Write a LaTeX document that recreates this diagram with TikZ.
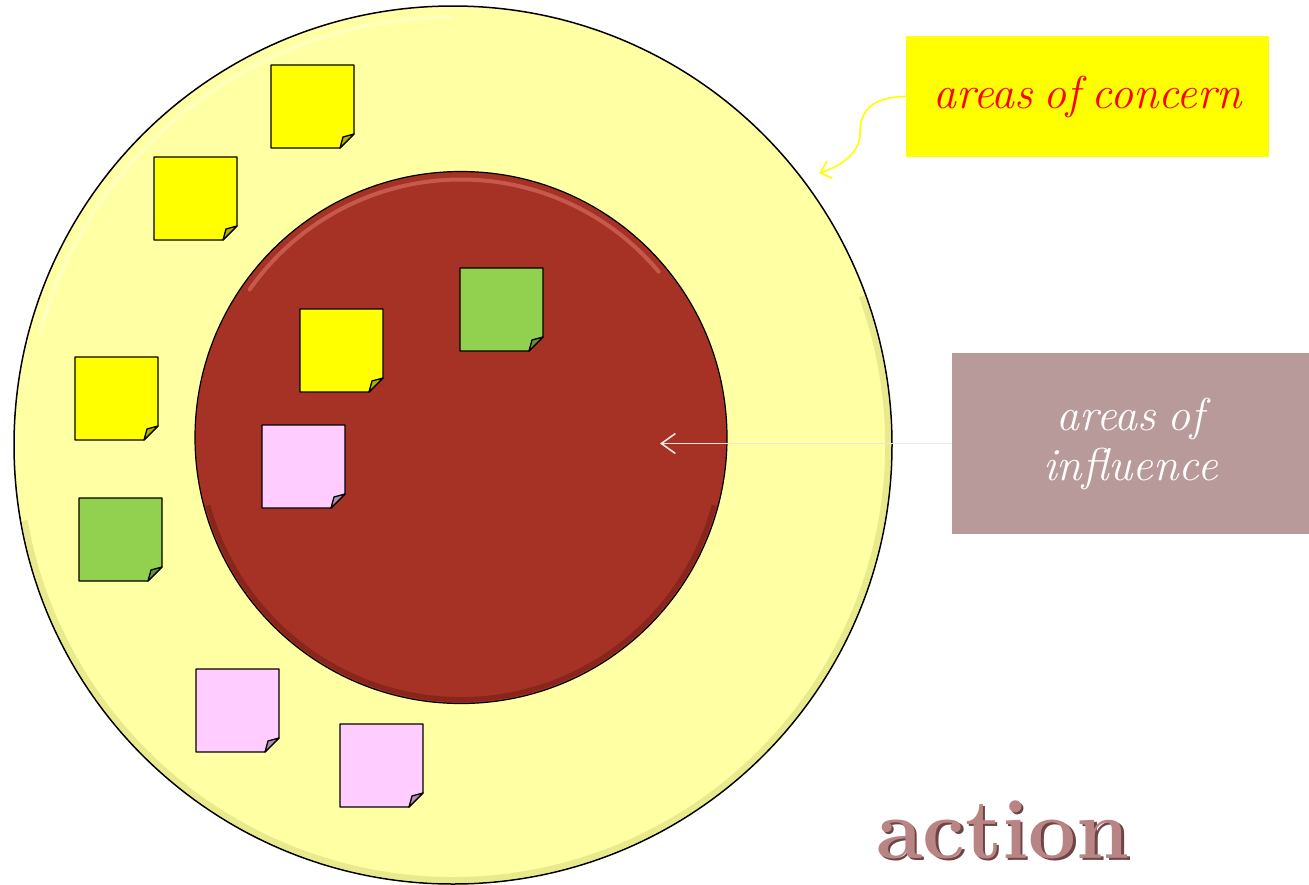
\documentclass[tikz,border=0pt]{standalone}
\usepackage{fontspec}
\usetikzlibrary{arrows.meta}
\definecolor{concernfill}{HTML}{FFFFA3}
\definecolor{concernrim}{HTML}{B8B860}
\definecolor{influencefill}{HTML}{A53224}
\definecolor{influencehi}{HTML}{E27A6E}
\definecolor{influencelo}{HTML}{5E150E}
\definecolor{noteyellow}{HTML}{FFFF00}
\definecolor{notegreen}{HTML}{92D050}
\definecolor{notepink}{HTML}{FFCCFF}
\definecolor{labelyellow}{HTML}{FFFF00}
\definecolor{labelmauve}{HTML}{B89A9A}
\definecolor{actioncol}{HTML}{B98584}
\definecolor{actionshade}{HTML}{6E4444}
\definecolor{arrowgrey}{HTML}{ECE8E0}
\newcommand\stickynote[4]{%
  \begin{scope}[shift={(#2,#3)}]
    \coordinate (#1) at (0,0);
    \filldraw[notebody,fill=#4] (0,0) -- (83,0) -- (83,69) -- (69,83) -- (0,83) -- cycle;
    \filldraw[notebody,fill=#4!70!black] (83,69) -- (72,72) -- (69,83) -- cycle;
  \end{scope}}
\newcommand\wsp{\hspace{.24em}}
\begin{document}
\begin{tikzpicture}[x=1pt,y=-1pt,
  notebody/.style={draw=black,line width=1.3pt,line join=round},
  ring/.style={circle,draw=black,inner sep=0pt,outer sep=0pt},
  labelbox/.style={inner sep=0pt,outer sep=0pt,anchor=north west,align=center,
    font=\itshape\fontsize{46}{50}\selectfont},
  concernarrow/.style={draw=labelyellow,line width=1.6pt,-{Straight Barb[length=10pt,width=18pt]}},
  influencearrow/.style={draw=arrowgrey,line width=1.6pt,-{Straight Barb[length=14pt,width=20pt]}},
  actionfont/.style={font=\bfseries\fontsize{85}{90}\selectfont,anchor=base,inner sep=0pt}]
\useasboundingbox (0,0) rectangle (1309,884);
\fill[white] (0,0) rectangle (1309,884);
% outer circle
\node[ring,line width=1.5pt,fill=concernfill,minimum size=878pt] (concern) at (453,445) {};
\draw[concernrim,line width=6pt,opacity=.3] (concern.center) ++(-20:435) arc[start angle=-20,end angle=170,radius=435];
\draw[white,line width=4pt,opacity=.3] (concern.center) ++(195:428) arc[start angle=195,end angle=270,radius=428];
% inner circle
\node[ring,line width=1.2pt,fill=influencefill,minimum size=532pt] (influence) at (461,437.5) {};
\draw[influencehi,line width=4pt,opacity=.55,line cap=round] (influence.center) ++(215:258) arc[start angle=215,end angle=320,radius=258];
\draw[influencelo,line width=5pt,opacity=.4] (influence.center) ++(15:262) arc[start angle=15,end angle=165,radius=262];
% sticky notes
\stickynote{n1}{271}{65}{noteyellow}
\stickynote{n2}{154}{157}{noteyellow}
\stickynote{n3}{300}{309}{noteyellow}
\stickynote{n4}{460}{268}{notegreen}
\stickynote{n5}{75}{357}{noteyellow}
\stickynote{n6}{262}{425}{notepink}
\stickynote{n7}{79}{498}{notegreen}
\stickynote{n8}{196}{669}{notepink}
\stickynote{n9}{340}{724}{notepink}
% labels
\node[labelbox,fill=labelyellow,text=red,minimum width=363pt,minimum height=121pt] (concernlabel) at (906,36) {areas\wsp of\wsp concern};
\node[labelbox,fill=labelmauve,text=white,minimum width=357pt,minimum height=181pt] (influencelabel) at (952,353) {areas\wsp of\\influence};
% connectors
\coordinate (concerntip) at (819,173);
\draw[concernarrow] (concernlabel.west) .. controls (864,97) and (860,118) .. (860,134) .. controls (860,152) and (842,166) .. (concerntip);
\coordinate (influencetip) at (660,443.5);
\draw[influencearrow] (influencelabel.west) -- (influencetip);
% action
\node[actionfont,text=actionshade] (actionshadow) at (1005.5,860.5) {action};
\node[actionfont,text=actioncol] (action) at (1003,858) {action};
\end{tikzpicture}
\end{document}
